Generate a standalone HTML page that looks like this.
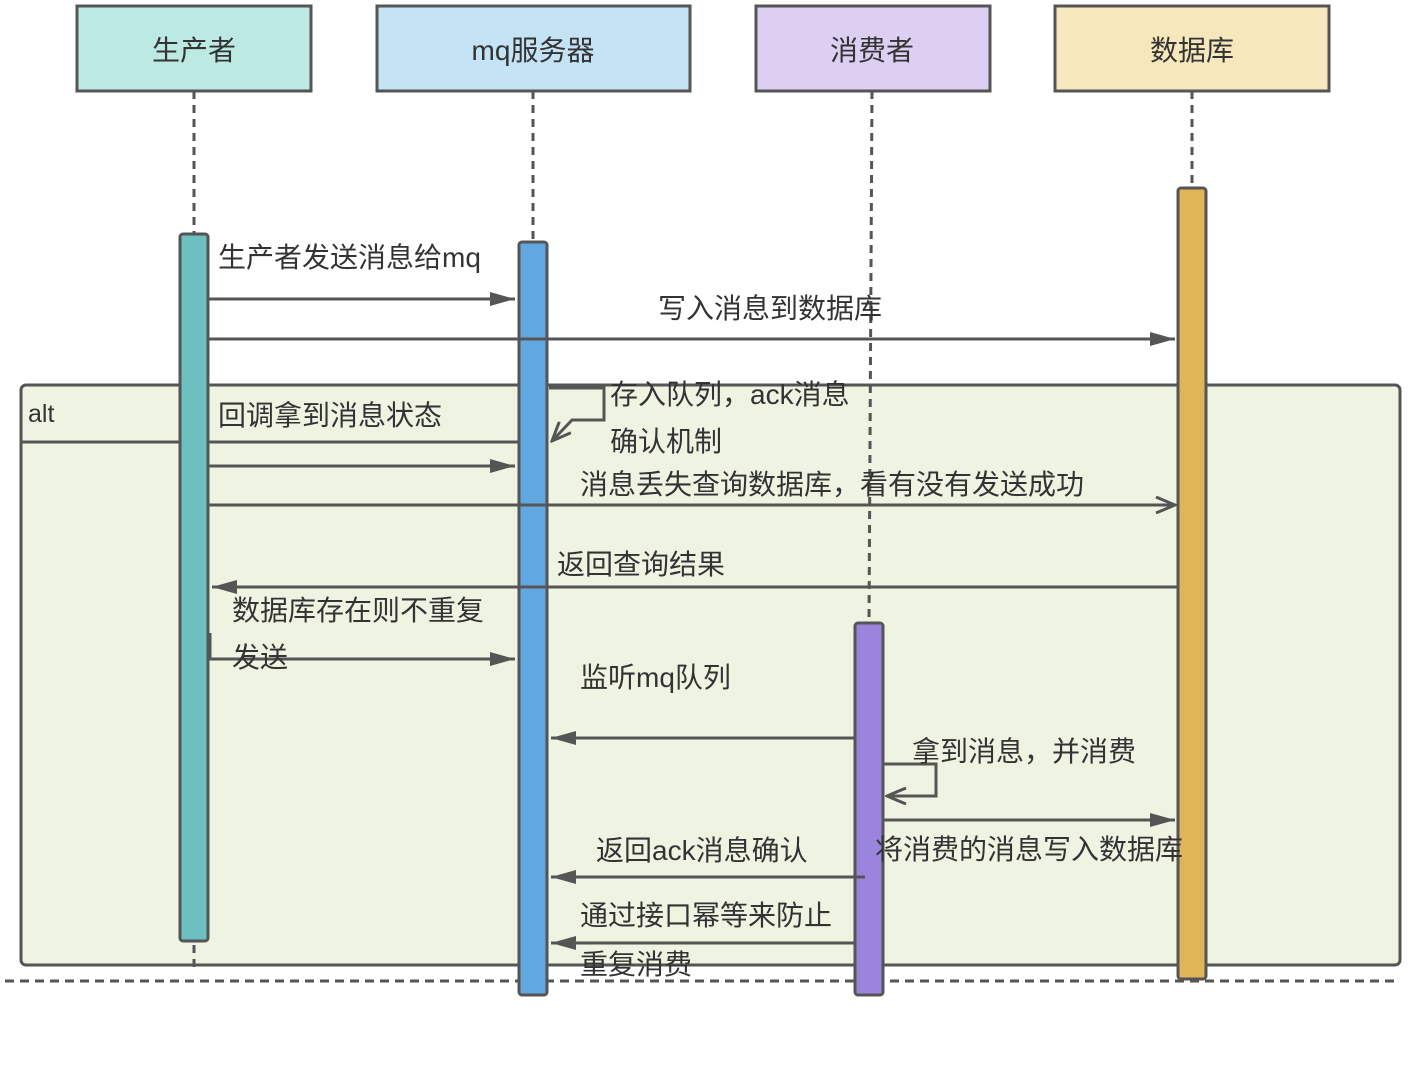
<!DOCTYPE html>
<html><head><meta charset="utf-8"><style>
html,body{margin:0;padding:0;background:#fff;}
svg{display:block;}
text{font-family:"Liberation Sans","Noto Sans CJK SC",sans-serif;fill:#333;}
</style></head><body>
<svg width="1408" height="1066" viewBox="0 0 1408 1066" xmlns="http://www.w3.org/2000/svg">
<defs>
<marker id="o" markerWidth="22" markerHeight="18" refX="20" refY="9" orient="auto" markerUnits="userSpaceOnUse">
<path d="M1,1 L20,9 L1,17" fill="none" stroke="#555" stroke-width="3"/></marker>
<marker id="s" markerWidth="26" markerHeight="18" refX="25" refY="9" orient="auto" markerUnits="userSpaceOnUse">
<path d="M0,2 L25,9 L0,16 Z" fill="#555"/></marker>
</defs>
<rect x="21" y="385" width="1379" height="580" rx="5" fill="#eff3e2" stroke="#555" stroke-width="3"/>
<line x1="21" y1="442" x2="519" y2="442" stroke="#555" stroke-width="3"/>
<text x="28" y="422" font-size="25">alt</text>
<line x1="5" y1="981" x2="1400" y2="981" stroke="#555" stroke-width="3" stroke-dasharray="9,6"/>
<g stroke="#555" stroke-width="3" stroke-dasharray="8,6">
<line x1="194" y1="91" x2="194" y2="970"/>
<line x1="533" y1="91" x2="533" y2="242"/>
<line x1="872" y1="91" x2="869" y2="623"/>
<line x1="1192" y1="91" x2="1192" y2="188"/>
</g>
<g stroke="#555" stroke-width="3">
<rect x="77" y="6" width="234" height="85" fill="#bde9e3"/>
<rect x="377" y="6" width="313" height="85" fill="#c4e3f4"/>
<rect x="756" y="6" width="234" height="85" fill="#dccff2"/>
<rect x="1055" y="6" width="274" height="85" fill="#f6e8bc"/>
</g>
<g font-size="28" text-anchor="middle">
<text x="194" y="60">生产者</text>
<text x="533" y="60">mq服务器</text>
<text x="872" y="60">消费者</text>
<text x="1192" y="60">数据库</text>
</g>
<g stroke="#555" stroke-width="3">
<rect x="180" y="234" width="28" height="707" rx="3" fill="#6cc0c0"/>
<rect x="519" y="242" width="28" height="753" rx="3" fill="#62a8e0"/>
<rect x="855" y="623" width="28" height="372" rx="3" fill="#9b85dc"/>
<rect x="1178" y="188" width="28" height="791" rx="3" fill="#e0b558"/>
</g>
<g stroke="#555" stroke-width="3" fill="none">
<line x1="208" y1="299" x2="515" y2="299" marker-end="url(#s)"/>
<line x1="208" y1="339" x2="1175" y2="339" marker-end="url(#s)"/>
<path d="M549,388 H604 V420 H572 L552,441" marker-end="url(#o)"/>
<line x1="208" y1="466" x2="515" y2="466" marker-end="url(#s)"/>
<line x1="208" y1="505" x2="1175" y2="505" marker-end="url(#o)"/>
<line x1="1178" y1="587" x2="212" y2="587" marker-end="url(#s)"/>
<line x1="210" y1="633" x2="210" y2="659"/>
<line x1="208" y1="659" x2="515" y2="659" marker-end="url(#s)"/>
<line x1="855" y1="738" x2="551" y2="738" marker-end="url(#s)"/>
<path d="M883,764 H936 V796 H887" marker-end="url(#o)"/>
<line x1="883" y1="820" x2="1175" y2="820" marker-end="url(#s)"/>
<line x1="865" y1="877" x2="551" y2="877" marker-end="url(#s)"/>
<line x1="855" y1="943" x2="551" y2="943" marker-end="url(#s)"/>
</g>
<g font-size="28">
<text x="218" y="267">生产者发送消息给mq</text>
<text x="658" y="318">写入消息到数据库</text>
<text x="610" y="404">存入队列，ack消息</text>
<text x="610" y="451">确认机制</text>
<text x="218" y="425">回调拿到消息状态</text>
<text x="580" y="494">消息丢失查询数据库，看有没有发送成功</text>
<text x="557" y="574">返回查询结果</text>
<text x="232" y="620">数据库存在则不重复</text>
<text x="232" y="667">发送</text>
<text x="580" y="687">监听mq队列</text>
<text x="912" y="761">拿到消息，并消费</text>
<text x="875" y="859">将消费的消息写入数据库</text>
<text x="596" y="860">返回ack消息确认</text>
<text x="580" y="925">通过接口幂等来防止</text>
<text x="580" y="974">重复消费</text>
</g>
</svg>
</body></html>
